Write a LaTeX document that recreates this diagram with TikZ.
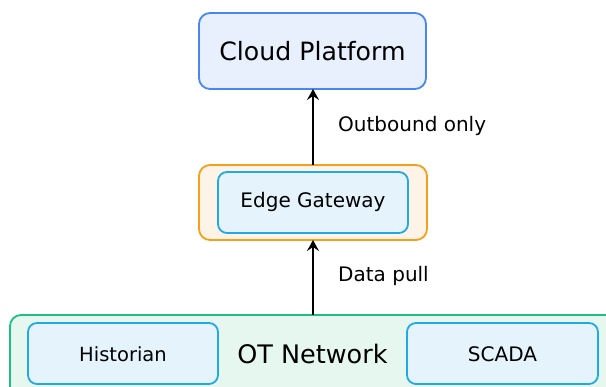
\documentclass[tikz,border=0pt]{standalone}
\usepackage{fontspec}
\setmainfont{DejaVu Sans}
\usetikzlibrary{arrows.meta}
\definecolor{cloudline}{HTML}{4A86F0}
\definecolor{cloudfill}{HTML}{E9F0FD}
\definecolor{edgeline}{HTML}{F5A01A}
\definecolor{edgefill}{HTML}{FDF4E7}
\definecolor{innerline}{HTML}{23A8E6}
\definecolor{innerfill}{HTML}{E5F4FC}
\definecolor{otline}{HTML}{1DBF84}
\definecolor{otfill}{HTML}{E6F7F0}
\tikzset{
  box/.style={draw, rounded corners=11pt, line width=1.8pt},
  flow/.style={line width=1.8pt, -{Stealth[length=11pt,width=12pt,inset=4pt]}},
  lbl/.style={font=\fontsize{20}{24}\selectfont, anchor=west, inner sep=0pt},
}
\begin{document}
\begin{tikzpicture}[x=1pt,y=-1pt]
\useasboundingbox (0,0) rectangle (606,387);
\clip (0,0) rectangle (606,387);
% cloud tier
\draw[box, draw=cloudline, fill=cloudfill] (199,13) rectangle (426,89);
\node[font=\fontsize{25.2}{29}\selectfont] (cloud) at (312.5,51) {Cloud Platform};
\coordinate (cloudB) at (313,89);
% edge tier
\draw[box, draw=edgeline, fill=edgefill] (199,165) rectangle (427,240);
\draw[box, rounded corners=9pt, draw=innerline, fill=innerfill] (218,172) rectangle (408,233);
\node[font=\fontsize{20}{24}\selectfont] (edge) at (313,201.5) {Edge Gateway};
\coordinate (edgeT) at (313,165);
\coordinate (edgeB) at (313,240);
% OT network tier
\draw[box, draw=otline, fill=otfill] (10,315) rectangle (620,400);
\coordinate (otT) at (313,315);
\draw[box, rounded corners=9pt, draw=innerline, fill=innerfill] (28,323) rectangle (218,384);
\node[font=\fontsize{19.5}{23}\selectfont] (hist) at (123,354) {Historian};
\draw[box, rounded corners=9pt, draw=innerline, fill=innerfill] (407,323) rectangle (598,384);
\node[font=\fontsize{20}{24}\selectfont] (scada) at (502.5,354) {SCADA};
\node[font=\fontsize{25.5}{29}\selectfont] (ot) at (312.5,354) {OT Network};
% connectors
\draw[flow] (edgeT) -- (cloudB);
\draw[flow] (otT) -- (edgeB);
\node[lbl] (outl) at (338,126) {Outbound only};
\node[lbl] (pull) at (338,276) {Data pull};
\end{tikzpicture}
\end{document}
